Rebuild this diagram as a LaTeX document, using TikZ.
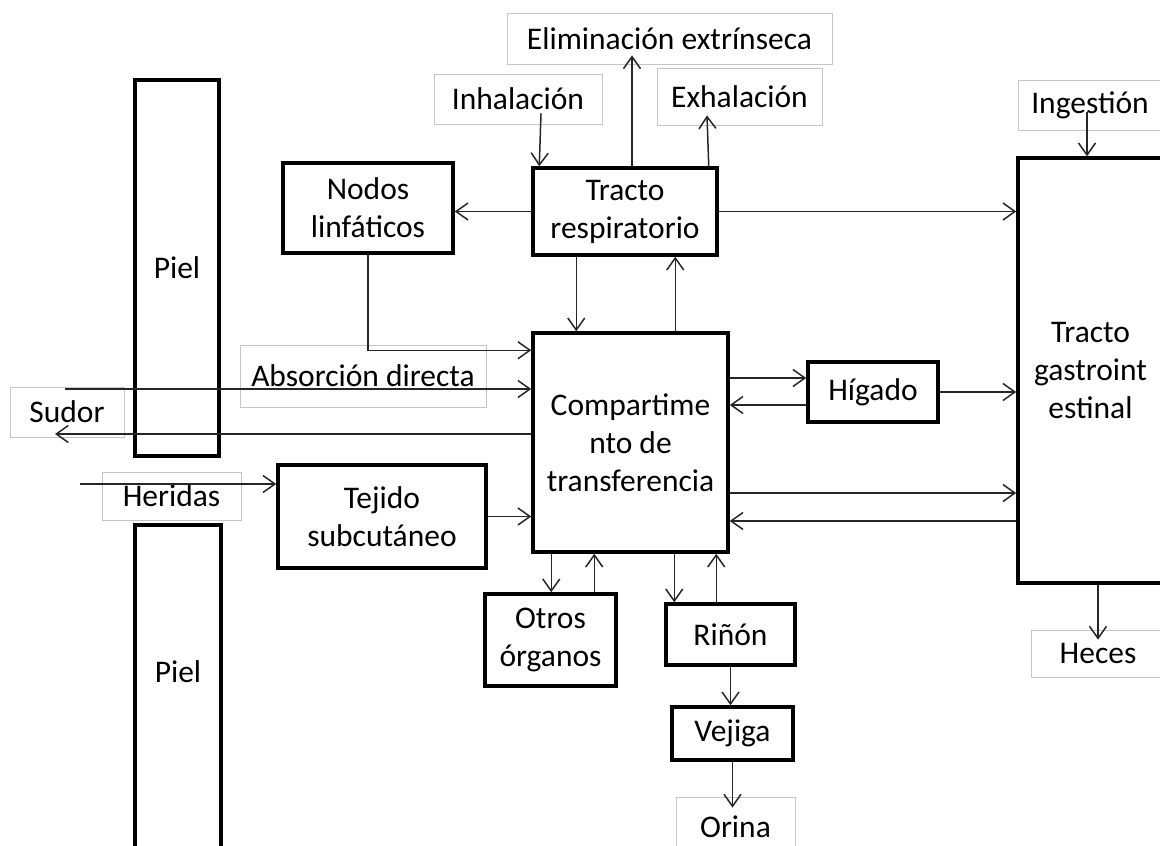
\documentclass[tikz,border=0pt]{standalone}
\usepackage{fontspec}
\setmainfont{Carlito}
\usetikzlibrary{arrows.meta}

\begin{document}
\begin{tikzpicture}[
    x=1pt, y=-1pt,
    font=\fontsize{31.5}{38}\selectfont,
    organ/.style={
        rectangle, draw=black, line width=3.5pt,
        align=center, inner sep=0pt
    },
    route/.style={
        rectangle, draw=gray!45, line width=0.8pt,
        align=center, inner sep=0pt
    },
    arrow/.style={-{Straight Barb[length=12pt,width=17pt]}, line width=1.5pt, black!85}
]

\useasboundingbox (0,0) rectangle (1160,846);
\clip (0,0) rectangle (1160,846);

% Entry and exit routes (thin grey boxes)
\node[route, minimum width=325pt, minimum height=51pt] (elim) at (669.5,38.5) {Eliminación extrínseca};
\node[route, minimum width=168pt, minimum height=50pt] (inh) at (518,99) {Inhalación};
\node[route, minimum width=165pt, minimum height=57pt] (exh) at (739.5,96.5) {Exhalación};
\node[route, minimum width=246pt, minimum height=62pt] (absor) at (363,376) {Absorción directa};
\node[route, minimum width=114pt, minimum height=50pt] (sudor) at (67,412) {Sudor};
\node[route, minimum width=139pt, minimum height=48pt] (heridas) at (171.5,496) {Heridas};
\node[route, minimum width=144pt, minimum height=50pt] (ing) at (1090,105) {Ingestión};
\node[route, minimum width=134pt, minimum height=47pt] (heces) at (1098,653.5) {Heces};
\node[route, minimum width=119pt, minimum height=60pt] (orina) at (735.5,827) {Orina};

% Skin
\node[organ, minimum width=84pt, minimum height=376pt] (piel1) at (177,268) {Piel};
\node[organ, minimum width=86pt, minimum height=335pt] (piel2) at (178,692.5) {};
\node (piel2txt) at (178,672) {Piel};

% Organs
\node[organ, minimum width=184pt, minimum height=87pt] (resp) at (625,211.5) {Tracto\\respiratorio};
\node[organ, minimum width=170pt, minimum height=90pt] (nodos) at (368,208) {Nodos\\linfáticos};
\node[organ, minimum width=208pt, minimum height=103pt] (tejido) at (382,516.5) {Tejido\\subcutáneo};
\node[organ, minimum width=195pt, minimum height=219pt] (comp) at (630.5,442.5) {Compartime\\nto de\\transferencia};
\node[organ, minimum width=130pt, minimum height=60pt] (higado) at (873,392) {Hígado};
\node[organ, minimum width=145pt, minimum height=425pt] (gi) at (1090.5,370.5) {Tracto\\gastroint\\estinal};
\node[organ, minimum width=131pt, minimum height=92pt] (otros) at (550.5,640) {Otros\\órganos};
\node[organ, minimum width=129pt, minimum height=61pt] (rinon) at (730.5,634.5) {Riñón};
\node[organ, minimum width=121pt, minimum height=53pt] (vejiga) at (732.5,733.5) {Vejiga};

% Free ends
\coordinate (absin) at (65,389);
\coordinate (sudorout) at (55,434);
\coordinate (herin) at (80,484);

% Respiratory tract
\draw[arrow] ([xshift=23pt,yshift=11pt]inh.south) -- ([xshift=8pt]resp.north west);
\draw[arrow] ([xshift=7pt]resp.north) -- ([xshift=-37.5pt,yshift=9pt]elim.south);
\draw[arrow] ([xshift=-10pt]resp.north east) -- ([xshift=-32.5pt,yshift=10pt]exh.south);
\draw[arrow] (resp.west) -- (resp.west -| nodos.east);
\draw[arrow] (resp.east) -- (resp.east -| gi.west);
\draw[arrow] ([xshift=45pt]resp.south west) -- ([xshift=45pt]comp.north west);
\draw[arrow] ([xshift=144pt]comp.north west) -- ([xshift=144pt]resp.south west);

% Into the transfer compartment
\draw[arrow] (nodos.south) |- ([yshift=-19pt]comp.north west);
\draw[arrow] (absin) -- (absin -| comp.west);
\draw[arrow] (comp.west |- sudorout) -- (sudorout);
\draw[arrow] (herin) -- (herin -| tejido.west);
\draw[arrow] (tejido.east) -- (tejido.east -| comp.west);

% Liver and GI tract
\coordinate (hin) at ([yshift=14pt]higado.west);
\coordinate (hout) at ([yshift=-13pt]higado.west);
\draw[arrow] (comp.east |- hin) -- (hin);
\draw[arrow] (hout) -- (hout -| comp.east);
\draw[arrow] (higado.east) -- (higado.east -| gi.west);
\coordinate (giin) at ([yshift=-122.5pt]gi.west);
\coordinate (giout) at ([yshift=-150.5pt]gi.west);
\draw[arrow] (comp.east |- giin) -- (giin);
\draw[arrow] (giout) -- (giout -| comp.east);
\draw[arrow] ([xshift=-3pt,yshift=18pt]ing.south) -- ([xshift=-3.5pt]gi.north);
\draw[arrow] ([xshift=7.5pt]gi.south) -- ([yshift=-10pt]heces.north);

% Other organs and kidney
\coordinate (od) at ([xshift=20pt]comp.south west);
\coordinate (ou) at ([xshift=63pt]comp.south west);
\coordinate (rd) at ([xshift=143pt]comp.south west);
\coordinate (ru) at ([xshift=185pt]comp.south west);
\draw[arrow] (od) -- (od |- otros.north);
\draw[arrow] (ou |- otros.north) -- (ou);
\draw[arrow] (rd) -- (rd |- rinon.north);
\draw[arrow] (ru |- rinon.north) -- (ru);
\draw[arrow] (rinon.south) -- (rinon.south |- vejiga.north);
\coordinate (orin) at ([yshift=-11pt]orina.north);
\draw[arrow] (vejiga.south) -- (vejiga.south |- orin);

\end{tikzpicture}
\end{document}
